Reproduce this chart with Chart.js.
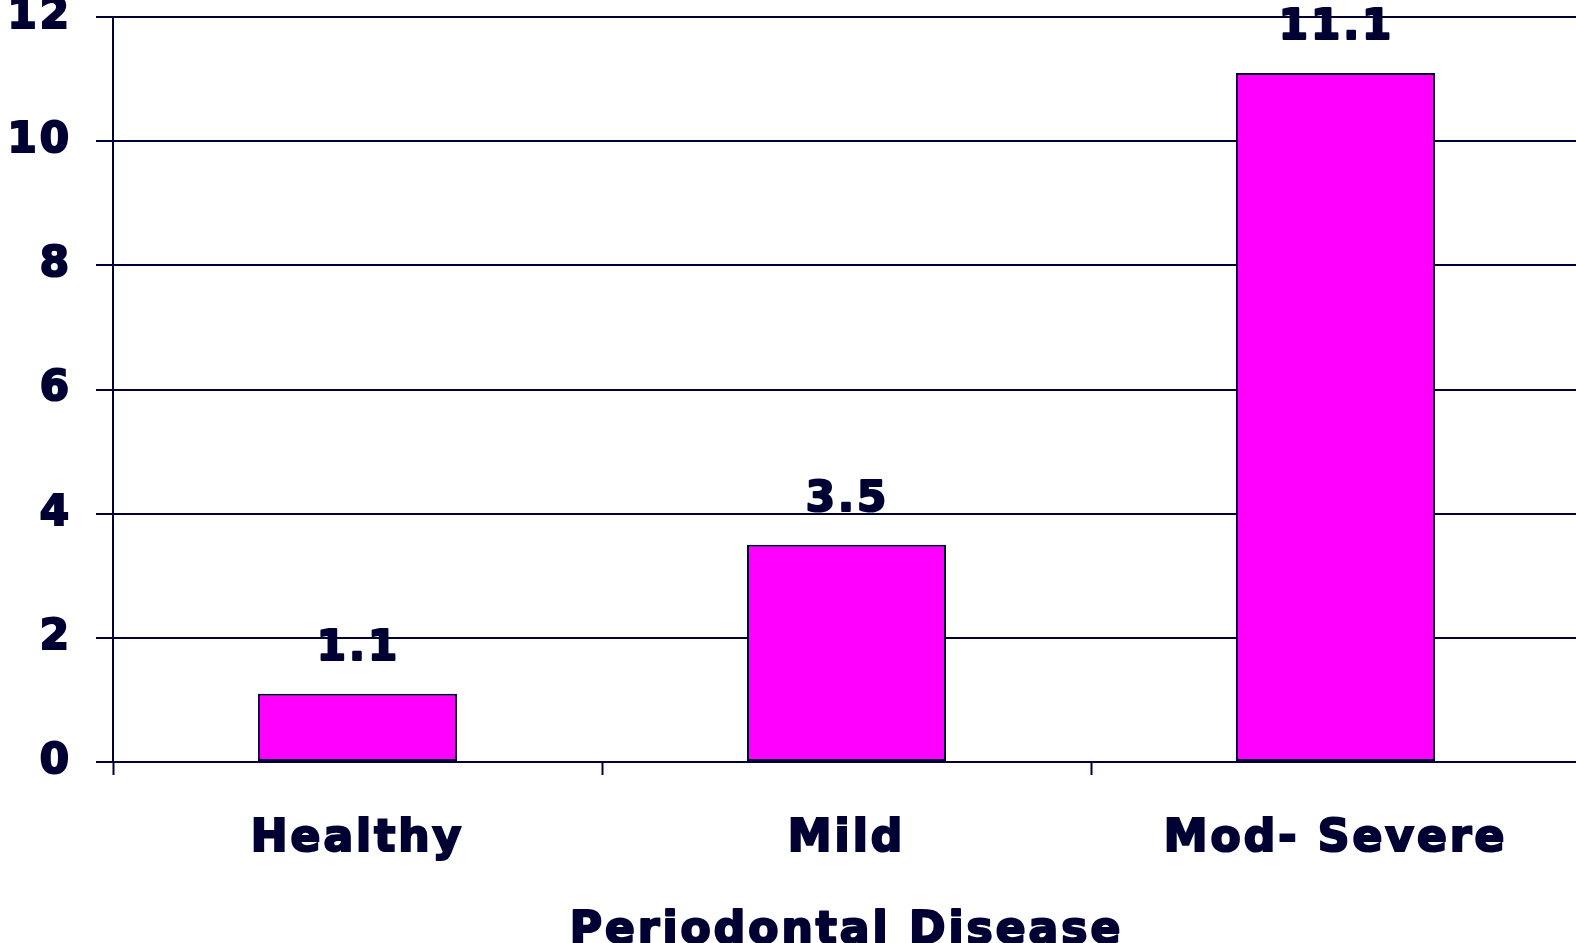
<!DOCTYPE html>
<html>
<head>
<meta charset="utf-8">
<script src="https://cdn.jsdelivr.net/npm/chart.js@4/dist/chart.umd.min.js"></script>
<style>
  html, body { margin: 0; padding: 0; background: #ffffff; overflow: hidden; }
  #wrap { position: absolute; left: 0; top: 0; width: 1582px; height: 975px; }
</style>
</head>
<body>
<div id="wrap"><canvas id="chart"></canvas></div>
<script>
// Periodontal disease categories and their values
const categories = ['Healthy', 'Mild', 'Mod- Severe'];
const values = [1.1, 3.5, 11.1];
const axisTitle = 'Periodontal Disease';
const yMin = 0;
const yMax = 12;
const yStep = 2;

const INK = '#000033';
const BAR = '#FF00FF';
const FONT = '"DejaVu Sans", "Liberation Sans", sans-serif';
const SPACING = '3px';
const STROKE = 2.2;

// Wide heavy lettering: add a little tracking to every text draw
const tracking = {
  id: 'tracking',
  beforeLayout(chart) { chart.ctx.letterSpacing = SPACING; },
  beforeDraw(chart) { chart.ctx.letterSpacing = SPACING; }
};

function heavyText(ctx, text, x, y, size) {
  ctx.save();
  ctx.letterSpacing = SPACING;
  ctx.font = 'bold ' + size + 'px ' + FONT;
  ctx.fillStyle = INK;
  ctx.strokeStyle = INK;
  ctx.lineWidth = STROKE;
  ctx.lineJoin = 'round';
  ctx.textAlign = 'center';
  ctx.textBaseline = 'alphabetic';
  ctx.strokeText(text, x, y);
  ctx.fillText(text, x, y);
  ctx.restore();
}

// Value labels above each bar, plus the category axis title
const annotations = {
  id: 'annotations',
  afterDatasetsDraw(chart) {
    const meta = chart.getDatasetMeta(0);
    meta.data.forEach((bar, i) => {
      const v = chart.data.datasets[0].data[i];
      heavyText(chart.ctx, v.toFixed(1), bar.x + 1, bar.y - 34, 42);
    });
  },
  afterDraw(chart) {
    const xs = chart.scales.x;
    heavyText(chart.ctx, axisTitle, (xs.left + xs.right) / 2, 943, 44);
  }
};

new Chart(document.getElementById('chart'), {
  type: 'bar',
  data: {
    labels: categories,
    datasets: [{
      data: values,
      backgroundColor: BAR,
      borderColor: INK,
      borderWidth: 2,
      borderSkipped: false,
      barPercentage: 0.407,
      categoryPercentage: 1.0
    }]
  },
  options: {
    responsive: true,
    maintainAspectRatio: false,
    animation: false,
    layout: { padding: { top: 17, right: 2, left: 0, bottom: 0 } },
    plugins: {
      legend: { display: false },
      tooltip: { enabled: false }
    },
    scales: {
      x: {
        offset: true,
        grid: {
          offset: true,
          drawOnChartArea: false,
          drawTicks: true,
          tickLength: 13,
          tickWidth: 2,
          tickColor: INK
        },
        border: { display: true, color: INK, width: 2 },
        ticks: {
          color: INK,
          padding: 38,
          maxRotation: 0,
          textStrokeColor: INK,
          textStrokeWidth: STROKE,
          font: { family: FONT, size: 44, weight: 'bold' }
        },
        afterFit(scale) {
          scale.height = 213;
          scale.paddingLeft = 0;
          scale.paddingRight = 0;
        }
      },
      y: {
        min: yMin,
        max: yMax,
        grid: {
          color: INK,
          lineWidth: 2,
          drawTicks: true,
          tickLength: 17,
          tickColor: INK
        },
        border: { display: true, color: INK, width: 2 },
        ticks: {
          stepSize: yStep,
          color: INK,
          padding: 24,
          textStrokeColor: INK,
          textStrokeWidth: STROKE,
          font: { family: FONT, size: 42, weight: 'bold' }
        },
        afterFit(scale) {
          scale.width = 113;
          scale.paddingTop = 0;
          scale.paddingBottom = 0;
        }
      }
    }
  },
  plugins: [tracking, annotations]
});
</script>
</body>
</html>
